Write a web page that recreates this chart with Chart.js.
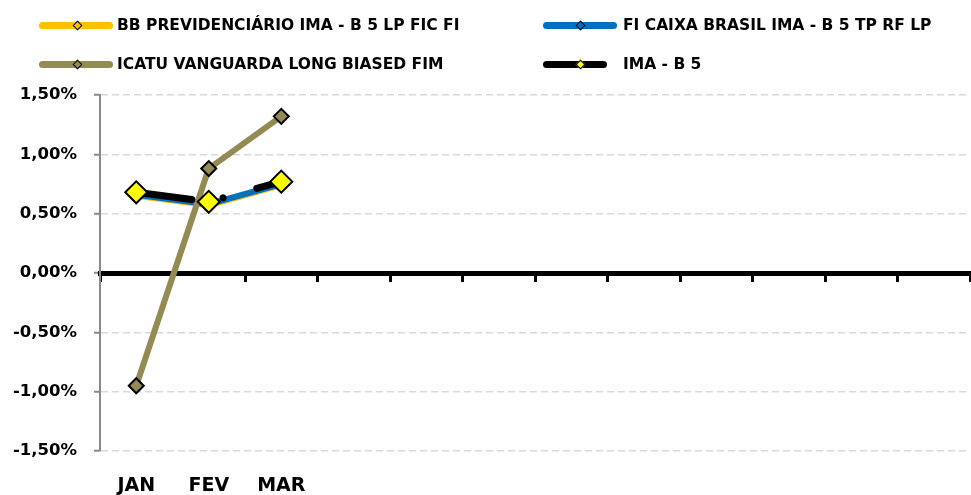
<!DOCTYPE html>
<html>
<head>
<meta charset="utf-8">
<script src="https://cdn.jsdelivr.net/npm/chart.js@4/dist/chart.umd.min.js"></script>
<style>
  html, body { margin: 0; padding: 0; background: #fff; }
  #wrap { position: relative; width: 971px; height: 495px; }
  #legend { position: absolute; left: 0; top: 0; width: 971px; height: 90px; pointer-events: none; }
  .lg-line { position: absolute; height: 7px; border-radius: 3.5px; }
  .lg-dia { position: absolute; width: 7px; height: 7px; transform: rotate(45deg); border: 1.6px solid #000; box-sizing: border-box; }
  .lg-text { position: absolute; font-family: "DejaVu Sans", sans-serif; font-weight: bold; font-size: 15.5px; color: #000; white-space: nowrap; line-height: 18px; }
</style>
</head>
<body>
<div id="wrap">
  <canvas id="c" width="971" height="495"></canvas>
  <div id="legend"></div>
</div>
<script>
// ---- data ----
const categories = ['JAN', 'FEV', 'MAR', '', '', '', '', '', '', '', '', ''];
const seriesNames = [
  'BB PREVIDENCIÁRIO IMA - B 5 LP FIC FI',
  'FI CAIXA BRASIL IMA - B 5 TP RF LP',
  'ICATU VANGUARDA LONG BIASED FIM',
  'IMA - B 5'
];
const bbValues = [0.65, 0.57, 0.74];
const caixaValues = [0.66, 0.58, 0.75];
const icatuValues = [-0.95, 0.88, 1.32];
const imab5Values = [0.68, 0.60, 0.77];
const yTicks = [-1.5, -1.0, -0.5, 0, 0.5, 1.0, 1.5];

// ---- styles ----
const styles = [
  { line: '#FFC000', marker: '#FFC000', radius: 5, width: 6, order: 3 },
  { line: '#0070C0', marker: '#0070C0', radius: 5, width: 6, order: 2 },
  { line: '#948A54', marker: '#948A54', radius: 7.5, width: 6, order: 1 },
  { line: '#000000', marker: '#FFFF00', radius: 11, width: 7, order: 0, dash: [56, 32, 0.01, 35] }
];
const legendPos = [
  { x: 39, w: 74, y: 25, dx: 77, tx: 117 },
  { x: 543, w: 74, y: 25, dx: 580, tx: 623 },
  { x: 39, w: 74, y: 64, dx: 77, tx: 117 },
  { x: 543, w: 64, y: 64, dx: 580, tx: 623 }
];

const allValues = [bbValues, caixaValues, icatuValues, imab5Values];
const fmt = v => v.toFixed(2).replace('.', ',') + '%';

const datasets = allValues.map((vals, i) => ({
  label: seriesNames[i],
  data: vals,
  borderColor: styles[i].line,
  backgroundColor: styles[i].marker,
  borderWidth: styles[i].width,
  borderDash: styles[i].dash || [],
  borderCapStyle: 'round',
  borderJoinStyle: 'round',
  pointStyle: 'rectRot',
  pointRadius: styles[i].radius,
  pointBackgroundColor: styles[i].marker,
  pointBorderColor: '#000000',
  pointBorderWidth: 2,
  tension: 0,
  order: styles[i].order,
  fill: false,
  clip: false
}));

// HTML legend built from the datasets
const lg = document.getElementById('legend');
datasets.forEach((ds, i) => {
  const p = legendPos[i];
  const ln = document.createElement('div');
  ln.className = 'lg-line';
  ln.style.left = p.x + 'px'; ln.style.top = (p.y - 3.5) + 'px'; ln.style.width = p.w + 'px';
  ln.style.background = ds.borderColor;
  lg.appendChild(ln);
  const d = document.createElement('div');
  d.className = 'lg-dia';
  d.style.left = (p.dx - 3.5) + 'px'; d.style.top = (p.y - 3.5) + 'px';
  d.style.background = ds.pointBackgroundColor;
  lg.appendChild(d);
  const t = document.createElement('div');
  t.className = 'lg-text';
  t.style.left = p.tx + 'px'; t.style.top = (p.y - 9) + 'px';
  t.textContent = ds.label;
  lg.appendChild(t);
});

new Chart(document.getElementById('c'), {
  type: 'line',
  data: { labels: categories, datasets: datasets },
  options: {
    responsive: false,
    animation: false,
    events: [],
    layout: { autoPadding: false, padding: { top: 95, left: 0, right: 1, bottom: 0 } },
    plugins: { legend: { display: false }, tooltip: { enabled: false } },
    scales: {
      x: {
        type: 'category',
        position: 'bottom',
        offset: true,
        grid: { display: false, drawTicks: false },
        border: { display: false },
        ticks: {
          autoSkip: false,
          maxRotation: 0,
          padding: 24,
          color: '#000',
          font: { family: 'DejaVu Sans', weight: 'bold', size: 19 }
        },
        afterFit: s => { s.height = 44; s.paddingLeft = 0; s.paddingRight = 0; }
      },
      xz: {
        type: 'category',
        axis: 'x',
        position: { y: 0 },
        offset: true,
        grid: { display: true, offset: true, drawOnChartArea: false, drawTicks: true, tickLength: 6, tickWidth: 3, tickColor: '#000' },
        border: { display: true, color: '#000', width: 5 },
        ticks: { display: false },
        afterFit: s => { s.paddingLeft = 0; s.paddingRight = 0; }
      },
      y: {
        min: -1.5,
        max: 1.5,
        afterBuildTicks: s => { s.ticks = yTicks.map(v => ({ value: v })); },
        grid: {
          color: c => (c.tick && c.tick.value === 0) ? 'rgba(0,0,0,0)' : '#D9D9D9',
          lineWidth: 1.5,
          drawTicks: true,
          tickLength: 6,
          tickColor: '#898989',
          tickWidth: 2
        },
        border: { display: true, color: '#898989', width: 2, dash: [7, 4] },
        ticks: {
          padding: 17,
          color: '#000',
          font: { family: 'DejaVu Sans', weight: 'bold', size: 16.5 },
          callback: v => fmt(v)
        },
        afterFit: s => { s.width = 100; }
      }
    }
  }
});
</script>
</body>
</html>
